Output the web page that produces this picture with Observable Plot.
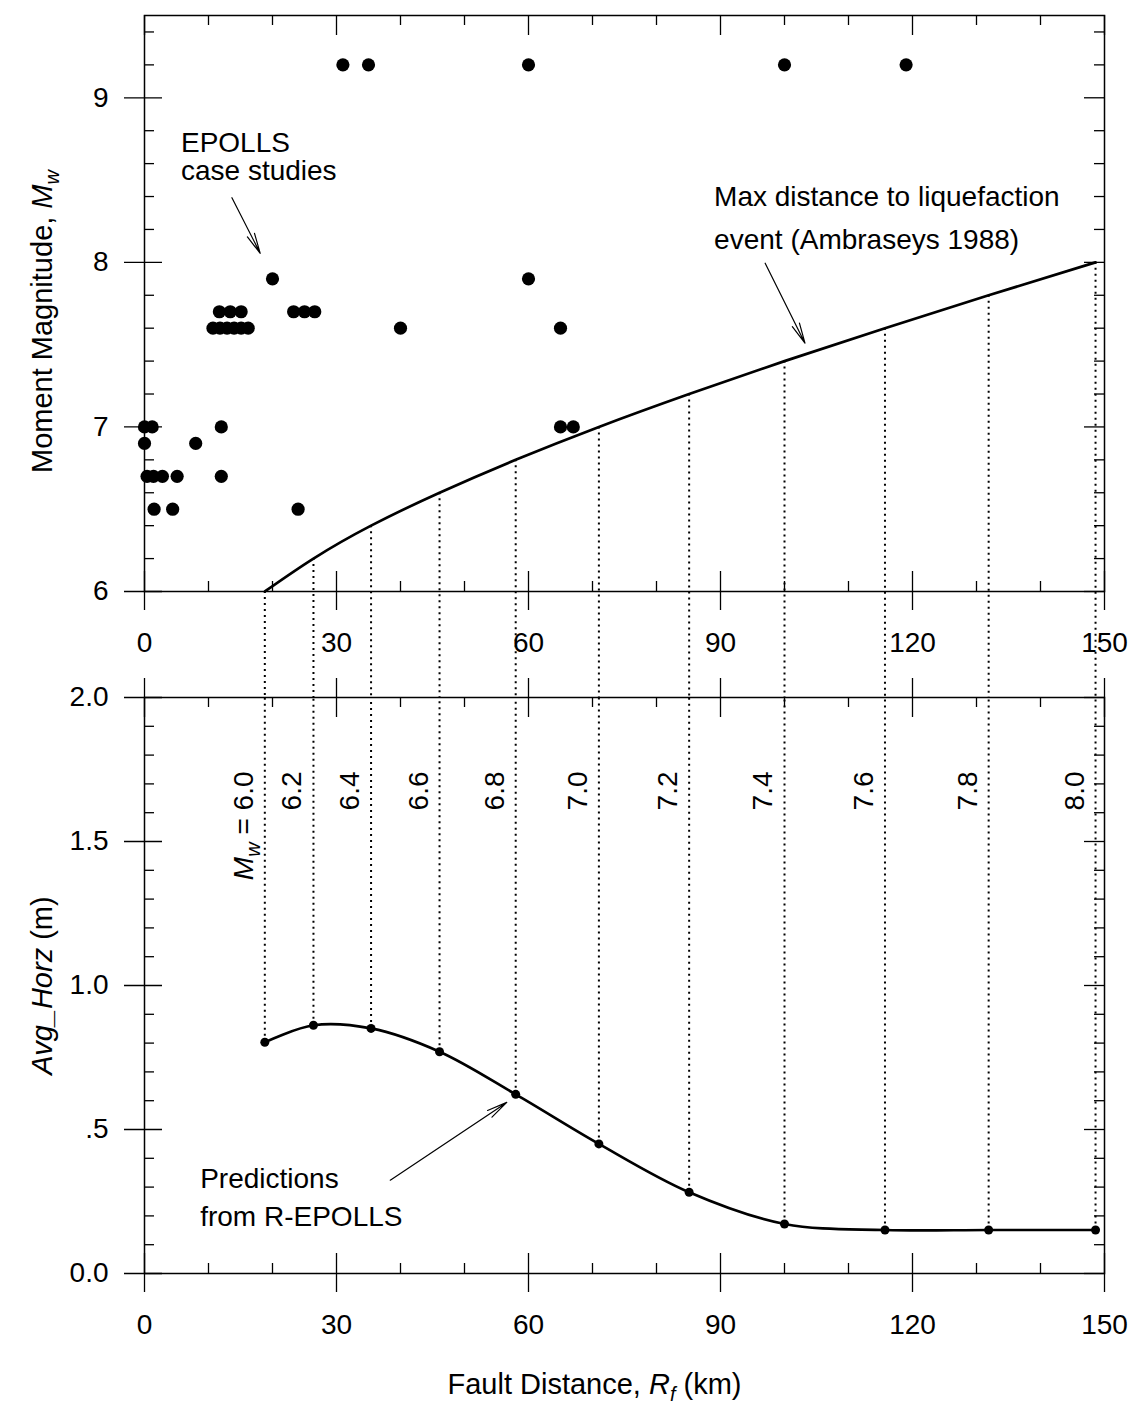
<!DOCTYPE html>
<html>
<head>
<meta charset="utf-8">
<script src="https://cdn.jsdelivr.net/npm/d3@7"></script>
<script src="https://cdn.jsdelivr.net/npm/@observablehq/plot@0.6"></script>
<style>
  body { margin: 0; background: #fff; }
  #chart { position: relative; width: 1133px; height: 1404px; background: #fff; }
  #chart svg { position: absolute; left: 0; top: 0; }
</style>
</head>
<body>
<div id="chart"></div>
<script>
// ---------- DATA ----------
// EPOLLS case studies (fault distance km, moment magnitude)
const caseR  = [0, 1.2, 0, 8, 0.4, 1.4, 2.8, 5.1, 1.5, 4.4, 12, 12, 24,
                10.7, 11.8, 12.9, 14, 15.1, 16.2,
                11.7, 13.4, 15.1, 23.3, 25, 26.6,
                20, 40, 31, 35, 60, 100, 119, 60, 65, 65, 67];
const caseMw = [7.0, 7.0, 6.9, 6.9, 6.7, 6.7, 6.7, 6.7, 6.5, 6.5, 7.0, 6.7, 6.5,
                7.6, 7.6, 7.6, 7.6, 7.6, 7.6,
                7.7, 7.7, 7.7, 7.7, 7.7, 7.7,
                7.9, 7.6, 9.2, 9.2, 9.2, 9.2, 9.2, 7.9, 7.6, 7.0, 7.0];

// Max distance to liquefaction (Ambraseys 1988) at each magnitude
const mwLevels = [6.0, 6.2, 6.4, 6.6, 6.8, 7.0, 7.2, 7.4, 7.6, 7.8, 8.0];
const maxDistR = [18.8, 26.4, 35.4, 46.1, 58.0, 71.0, 85.1, 100.0, 115.7, 131.9, 148.6];
// Predicted Avg_Horz (m) from R-EPOLLS at those distances
const predHorz = [0.803, 0.862, 0.851, 0.770, 0.622, 0.450, 0.282, 0.172, 0.151, 0.151, 0.151];
const mwLabels = ["Mw = 6.0", "6.2", "6.4", "6.6", "6.8", "7.0", "7.2", "7.4", "7.6", "7.8", "8.0"];

// ticks
const xMajor = [0, 30, 60, 90, 120, 150];
const xMinor = [10, 20, 40, 50, 70, 80, 100, 110, 130, 140];
const topYMajor = [6, 7, 8, 9];
const topYMinor = [6.2, 6.4, 6.6, 6.8, 7.2, 7.4, 7.6, 7.8, 8.2, 8.4, 8.6, 8.8, 9.2, 9.4];
const botYMajor = [0, 0.5, 1.0, 1.5, 2.0];
const botYMinor = [0.1, 0.2, 0.3, 0.4, 0.6, 0.7, 0.8, 0.9, 1.1, 1.2, 1.3, 1.4, 1.6, 1.7, 1.8, 1.9];

// annotations (data coordinates)
const topNotes = [
  {x: 5.7, y: 8.641, text: "EPOLLS\ncase studies", lh: 1.0},
  {x: 89.0, y: 8.295, text: "Max distance to liquefaction\nevent (Ambraseys 1988)", lh: 1.55}
];
const topArrows = [
  {x1: 13.66, y1: 8.393, x2: 18.08, y2: 8.055},
  {x1: 96.98, y1: 7.995, x2: 103.2, y2: 7.509}
];
const botNotes = [
  {x: 8.7, y: 0.274, text: "Predictions\nfrom R-EPOLLS", lh: 1.36}
];
const botArrows = [
  {x1: 38.4, y1: 0.324, x2: 56.6, y2: 0.594}
];

// ---------- TABLES ----------
const cases = caseR.map((r, i) => ({R: r, Mw: caseMw[i]}));
const levels = mwLevels.map((m, i) => ({Mw: m, R: maxDistR[i], H: predHorz[i], label: mwLabels[i]}));

// ---------- LAYOUT ----------
const FONT = "'Liberation Sans', Arial, Helvetica, sans-serif";
const FS = 28;
const PW = 960, PH = 576;
const tick = {stroke: "black", strokeWidth: 1.3};

function frameTicks(yMajor, yMinor, topMajorOut) {
  return [
    Plot.ruleX(xMinor, {...tick, insetTop: PH - 10}),
    Plot.ruleX(xMajor, {...tick, insetTop: PH - 20, insetBottom: -19}),
    Plot.ruleX(xMinor, {...tick, insetBottom: PH - 10}),
    Plot.ruleX(xMajor, {...tick, insetBottom: PH - 20, insetTop: topMajorOut ? -19 : 0}),
    Plot.ruleY(yMinor, {...tick, insetRight: PW - 10}),
    Plot.ruleY(yMajor, {...tick, insetRight: PW - 18, insetLeft: -20}),
    Plot.ruleY(yMinor, {...tick, insetLeft: PW - 10}),
    Plot.ruleY(yMajor, {...tick, insetLeft: PW - 20})
  ];
}
function notes(list) {
  return list.map(n => Plot.text([n], {x: "x", y: "y", text: "text", lineHeight: n.lh, textAnchor: "start", lineAnchor: "middle", fontSize: FS, fill: "black"}));
}

const svgStyle = {fontFamily: FONT, fontSize: FS + "px", background: "transparent", color: "black", overflow: "visible"};
const dotted = {stroke: "black", strokeWidth: 2, strokeDasharray: "2,4"};
const arrowStyle = {stroke: "black", strokeWidth: 1.2, headAngle: 22, headLength: 26};

const topPlot = Plot.plot({
  width: 1133, height: 1404,
  marginLeft: 144, marginRight: 29, marginTop: 15, marginBottom: 813,
  x: {domain: [0, 150]},
  y: {domain: [6, 9.5]},
  style: svgStyle,
  marks: [
    Plot.ruleX(levels, {x: "R", y1: "Mw", y2: 6, insetBottom: -106, ...dotted}),
    Plot.frame({stroke: "black", strokeWidth: 1.5}),
    ...frameTicks(topYMajor, topYMinor, false),
    Plot.axisX({ticks: xMajor, tickSize: 0, tickPadding: 41, tickFormat: d => String(d), label: null, fontSize: FS}),
    Plot.axisY({ticks: topYMajor, tickSize: 0, tickPadding: 36, tickFormat: d => String(d), label: null, fontSize: FS}),
    Plot.line(levels, {x: "R", y: "Mw", curve: "natural", stroke: "black", strokeWidth: 2.7}),
    Plot.dot(cases, {x: "R", y: "Mw", r: 6.6, fill: "black"}),
    ...notes(topNotes),
    Plot.arrow(topArrows, {x1: "x1", y1: "y1", x2: "x2", y2: "y2", ...arrowStyle}),
    Plot.text(["Moment Magnitude, Mw"], {text: d => d, frameAnchor: "left", textAnchor: "middle", lineAnchor: "middle", rotate: -90, dx: -102, dy: 18, fontSize: 29, fill: "black", ariaDescription: "ytitle-top"})
  ]
});

const botPlot = Plot.plot({
  width: 1133, height: 1404,
  marginLeft: 144, marginRight: 29, marginTop: 697, marginBottom: 131,
  x: {domain: [0, 150]},
  y: {domain: [0, 2]},
  style: svgStyle,
  marks: [
    Plot.ruleX(levels, {x: "R", y1: "H", y2: 2, ...dotted}),
    Plot.frame({stroke: "black", strokeWidth: 1.5}),
    ...frameTicks(botYMajor, botYMinor, true),
    Plot.axisX({ticks: xMajor, tickSize: 0, tickPadding: 41, tickFormat: d => String(d), label: null, fontSize: FS}),
    Plot.axisY({ticks: botYMajor, tickSize: 0, tickPadding: 36, tickFormat: d => d === 0.5 ? ".5" : d.toFixed(1), label: null, fontSize: FS}),
    Plot.line(levels, {x: "R", y: "H", curve: "catmull-rom", stroke: "black", strokeWidth: 2.7}),
    Plot.dot(levels, {x: "R", y: "H", r: 4.5, fill: "black"}),
    Plot.text(levels, {x: "R", text: "label", frameAnchor: "top", rotate: -90, textAnchor: "end", lineAnchor: "middle", dx: -21, dy: 74, fontSize: FS, fill: "black", ariaDescription: "mw-labels"}),
    ...notes(botNotes),
    Plot.arrow(botArrows, {x1: "x1", y1: "y1", x2: "x2", y2: "y2", ...arrowStyle}),
    Plot.text(["Avg_Horz (m)"], {text: d => d, frameAnchor: "left", textAnchor: "middle", lineAnchor: "middle", rotate: -90, dx: -102, dy: 0, fontSize: 29, fill: "black", ariaDescription: "ytitle-bot"}),
    Plot.text(["Fault Distance, Rf (km)"], {text: d => d, frameAnchor: "bottom", textAnchor: "middle", lineAnchor: "middle", dx: -30, dy: 111, fontSize: 29, fill: "black", ariaDescription: "xtitle"})
  ]
});

const chart = document.getElementById("chart");
chart.appendChild(topPlot);
chart.appendChild(botPlot);

// rich text (italic symbols and subscripts)
function rich(svg, label, test, html) {
  svg.querySelectorAll(`g[aria-description="${label}"] text`).forEach(t => {
    if (test(t.textContent)) t.innerHTML = html;
  });
}
const I = s => `<tspan font-style="italic">${s}</tspan>`;
const SUB = s => `<tspan font-style="italic" font-size="20" dy="7">${s}</tspan>`;
rich(topPlot, "ytitle-top", () => true, `Moment Magnitude, ${I("M")}${SUB("w")}`);
rich(botPlot, "ytitle-bot", () => true, `${I("Avg_Horz")} (m)`);
rich(botPlot, "xtitle", () => true, `Fault Distance, ${I("R")}${SUB("f")}<tspan dy="-7"> (km)</tspan>`);
rich(botPlot, "mw-labels", s => s.startsWith("Mw"), `${I("M")}${SUB("w")}<tspan dy="-7"> = 6.0</tspan>`);
</script>
</body>
</html>
